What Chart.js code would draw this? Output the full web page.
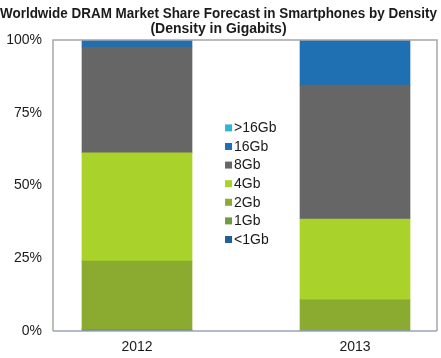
<!DOCTYPE html>
<html>
<head>
<meta charset="utf-8">
<script src="https://cdn.jsdelivr.net/npm/chart.js@4/dist/chart.umd.min.js"></script>
<style>
html,body{margin:0;padding:0;background:#fff;}
#wrap{width:441px;height:358px;}
</style>
</head>
<body>
<div id="wrap"><canvas id="c"></canvas></div>
<script>
const categories = ['2012', '2013'];
const seriesNames = ['<1Gb', '1Gb', '2Gb', '4Gb', '8Gb', '16Gb', '>16Gb'];
const lt1Gb  = [0, 0];
const gb1    = [0.5, 0];
const gb2    = [23.5, 10.7];
const gb4    = [37.2, 27.8];
const gb8    = [36.4, 46.0];
const gb16   = [2.4, 15.5];
const gt16Gb = [0, 0];
const yTicks = ['0%', '25%', '50%', '75%', '100%'];
const titleLines = ['Worldwide DRAM Market Share Forecast in Smartphones by Density', '(Density in Gigabits)'];

const seriesValues = [lt1Gb, gb1, gb2, gb4, gb8, gb16, gt16Gb];
const colors = ['#1f5f9c', '#6f9b45', '#8aab2f', '#a9d22b', '#666666', '#1f70b3', '#2fb6d2'];

const datasets = seriesNames.map((name, k) => ({
  label: name,
  data: categories.map((c, i) => ({x: i, y: seriesValues[k][i]})),
  backgroundColor: colors[k],
  borderWidth: 0,
  barThickness: 110
}));

const framePlugin = {
  id: 'frame',
  afterDatasetsDraw(chart) {
    const a = chart.chartArea, ctx = chart.ctx;
    ctx.save();
    ctx.strokeStyle = '#a6a6a6';
    ctx.lineWidth = 1.5;
    ctx.beginPath();
    ctx.moveTo(a.left, a.bottom);
    ctx.lineTo(a.left, a.top);
    ctx.lineTo(a.right, a.top);
    ctx.lineTo(a.right, a.bottom);
    ctx.stroke();
    ctx.strokeStyle = '#9aa3b8';
    ctx.beginPath();
    ctx.moveTo(a.left, a.bottom);
    ctx.lineTo(a.right, a.bottom);
    ctx.stroke();
    ctx.restore();
  }
};

const legendPlugin = {
  id: 'innerLegend',
  afterDraw(chart) {
    const ctx = chart.ctx, a = chart.chartArea;
    const x0 = a.left + (a.right - a.left) * 0.448;
    const y0 = a.top + (a.bottom - a.top) * 0.302;
    const step = 18.6;
    ctx.save();
    ctx.font = '14px "Liberation Sans", Arial, sans-serif';
    ctx.textBaseline = 'middle';
    const n = chart.data.datasets.length;
    for (let j = 0; j < n; j++) {
      const ds = chart.data.datasets[n - 1 - j];
      const y = y0 + j * step;
      ctx.fillStyle = ds.backgroundColor;
      ctx.fillRect(x0, y - 3.5, 7, 7);
      ctx.fillStyle = '#1a1a1a';
      ctx.fillText(ds.label, x0 + 9, y + 0.5);
    }
    ctx.restore();
  }
};

new Chart(document.getElementById('c'), {
  type: 'bar',
  data: { datasets },
  options: {
    responsive: true,
    maintainAspectRatio: false,
    animation: false,
    layout: { padding: { left: 0, right: 4, top: 0, bottom: 0 } },
    plugins: {
      legend: { display: false },
      tooltip: { enabled: false },
      title: {
        display: true,
        text: titleLines,
        color: '#1a1a1a',
        font: { family: '"Liberation Sans", Arial, sans-serif', size: 14, weight: 'bold', lineHeight: 1.1 },
        padding: { top: 6.5, bottom: 2.7 }
      }
    },
    scales: {
      x: {
        type: 'linear',
        stacked: true,
        offset: false,
        min: -0.3853,
        max: 1.3761,
        afterFit(s) { s.height = 27; },
        afterBuildTicks(s) { s.ticks = categories.map((c, i) => ({value: i})); },
        ticks: {
          padding: 8,
          color: '#1a1a1a',
          font: { family: '"Liberation Sans", Arial, sans-serif', size: 14 },
          callback: (v) => categories[v]
        },
        grid: { display: false, drawTicks: false },
        border: { display: false }
      },
      y: {
        stacked: true,
        min: 0,
        max: 100,
        afterFit(s) { s.width = 53; },
        afterBuildTicks(s) { s.ticks = yTicks.map((t, i) => ({value: i * 25})); },
        ticks: {
          padding: 11,
          color: '#1a1a1a',
          font: { family: '"Liberation Sans", Arial, sans-serif', size: 14 },
          callback: (v) => yTicks[v / 25]
        },
        grid: { display: false, drawTicks: false },
        border: { display: false }
      }
    }
  },
  plugins: [framePlugin, legendPlugin]
});
</script>
</body>
</html>
